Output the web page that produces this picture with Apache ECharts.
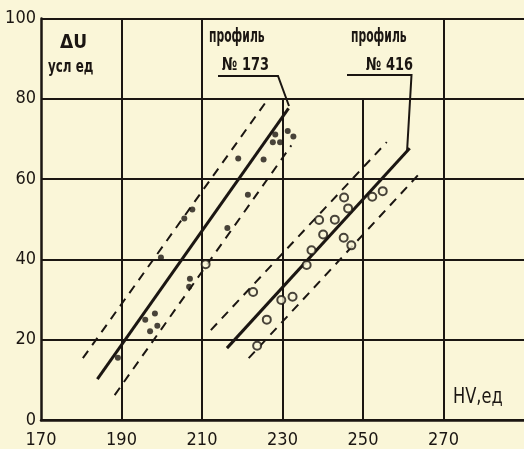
<!DOCTYPE html>
<html>
<head>
<meta charset="utf-8">
<script src="https://cdn.jsdelivr.net/npm/echarts@6/dist/echarts.min.js"></script>
<style>
html,body{margin:0;padding:0;background:#faf6d8;}
#c{width:524px;height:449px;}
</style>
</head>
<body>
<div id="c"></div>
<script>
// ---- data ----
const xTicks = [170, 190, 210, 230, 250, 270];
const yTicks = [0, 20, 40, 60, 80, 100];
// vertical grid lines: x value and top y value (230 & 250 stop at 80)
const gridX = [190, 210, 230, 250, 270];
const gridTop = [100, 100, 80, 80, 100];

// profile 173 (filled dots)
const p173 = [
  [189.1, 15.5], [195.9, 25.0], [198.3, 26.5], [197.1, 22.1], [198.9, 23.5],
  [199.8, 40.5], [207.0, 35.2], [206.8, 33.2], [216.3, 47.8], [205.6, 50.2],
  [207.6, 52.4], [221.4, 56.1], [219.0, 65.1], [225.3, 64.9], [227.6, 69.2],
  [229.4, 69.2], [228.2, 71.1], [231.3, 72.0], [232.7, 70.6]
];
// profile 416 (open circles)
const p416 = [
  [223.7, 18.5], [226.1, 25.0], [222.7, 31.9], [229.7, 29.9], [232.5, 30.7],
  [236.0, 38.6], [237.2, 42.3], [240.1, 46.2], [239.1, 49.8], [243.0, 49.9],
  [245.3, 55.4], [246.3, 52.7], [245.2, 45.4], [247.1, 43.5], [252.3, 55.6],
  [254.9, 57.0], [210.9, 38.8]
];
// regression lines and bands (end points)
const fit173 = [[184.0, 10.2], [231.5, 77.6]];
const up173 = [[180.4, 15.4], [225.8, 79.1]];
const lo173 = [[188.3, 6.2], [232.2, 68.4]];
const fit416 = [[216.2, 17.9], [261.6, 67.7]];
const up416 = [[212.2, 22.4], [255.9, 69.2]];
const lo416 = [[221.6, 15.4], [264.8, 62.2]];

// ---- style ----
const INK = '#1b1612';
const BG = '#faf6d8';
const FONT = '"Liberation Sans Narrow","DejaVu Sans Condensed","Roboto Condensed",sans-serif';

const chart = echarts.init(document.getElementById('c'), null, {renderer: 'canvas'});

function lineSeries(data, width, dashed) {
  return {
    type: 'line', data: data, symbol: 'none', silent: true,
    lineStyle: {color: INK, width: width, type: dashed ? [9, 7] : 'solid', cap: 'butt'},
    z: 3
  };
}

function label(text, left, top, font, sx) {
  return {type: 'text', left: left, top: top, scaleX: sx, z: 10,
          style: {text: text, fill: INK, font: font}};
}

const gridLines = gridX.map((x, i) => ({coords: [[x, 0], [x, gridTop[i]]]}));

chart.setOption({
  backgroundColor: BG,
  animation: false,
  grid: {left: 41, right: -3, top: 18.5, bottom: 29, containLabel: false},
  xAxis: {
    type: 'value', min: 170, max: 290, interval: 20,
    axisLine: {show: true, onZero: false, lineStyle: {color: INK, width: 2.5}},
    axisTick: {show: false},
    splitLine: {show: false},
    axisLabel: {
      color: INK, fontSize: 18, fontFamily: FONT, margin: 11, showMaxLabel: false,
      formatter: v => xTicks.indexOf(v) >= 0 ? String(v) : ''
    }
  },
  yAxis: {
    type: 'value', min: 0, max: 100, interval: 20,
    axisLine: {show: true, onZero: false, lineStyle: {color: INK, width: 2.5}},
    axisTick: {show: false},
    splitLine: {show: true, lineStyle: {color: INK, width: 2}},
    axisLabel: {
      color: INK, fontSize: 18, fontFamily: FONT, margin: 5,
      formatter: v => yTicks.indexOf(v) >= 0 ? String(v) : ''
    }
  },
  series: [
    {
      type: 'lines', coordinateSystem: 'cartesian2d', data: gridLines, silent: true,
      lineStyle: {color: INK, width: 2, opacity: 1}, z: 1
    },
    lineSeries(fit173, 3, false),
    lineSeries(up173, 2, true),
    lineSeries(lo173, 2, true),
    lineSeries(fit416, 3, false),
    lineSeries(up416, 2, true),
    lineSeries(lo416, 2, true),
    {
      type: 'scatter', data: p173, symbol: 'circle', symbolSize: 6,
      itemStyle: {color: INK}, z: 5
    },
    {
      type: 'scatter', data: p416, symbol: 'circle', symbolSize: 8,
      itemStyle: {color: BG, borderColor: INK, borderWidth: 2}, z: 5
    }
  ],
  graphic: [
    label('ΔU', 60, 33, 'bold 20px ' + FONT, 0.95),
    label('усл ед', 48, 59, 'bold 17px ' + FONT, 0.78),
    label('профиль', 209, 27, 'bold 20px ' + FONT, 0.6),
    label('№ 173', 222, 56, 'bold 18px ' + FONT, 0.8),
    label('профиль', 351, 27, 'bold 20px ' + FONT, 0.6),
    label('№ 416', 366, 56, 'bold 18px ' + FONT, 0.8),
    label('HV,ед', 453, 386, '22px ' + FONT, 0.82),
    {type: 'polyline', shape: {points: [[218, 76], [278, 76], [289, 106]]}, style: {stroke: INK, lineWidth: 2, fill: null}, z: 10},
    {type: 'polyline', shape: {points: [[347, 75], [411.5, 75], [407, 152]]}, style: {stroke: INK, lineWidth: 2, fill: null}, z: 10}
  ]
});
</script>
</body>
</html>
